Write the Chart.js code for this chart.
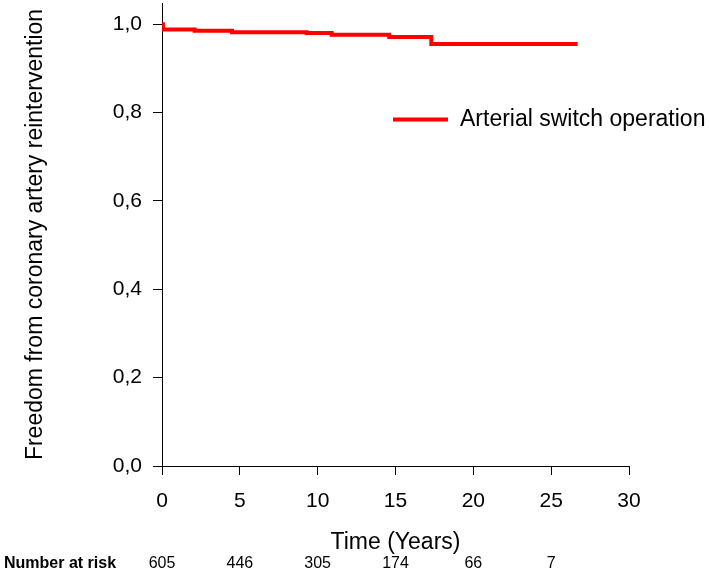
<!DOCTYPE html>
<html lang="en">
<head>
    <meta charset="UTF-8">
    <title>Freedom from coronary artery reintervention</title>
    <style>
        html, body {
            margin: 0;
            padding: 0;
            background-color: white;
        }
    </style>
    <script src="https://cdn.jsdelivr.net/npm/chart.js"></script>
</head>
<body>
    <canvas id="kmChart" width="709" height="580"></canvas>

    <script>
        // Kaplan-Meier step data
        const seriesLabel = 'Arterial switch operation';
        const times = [0, 0.06, 2.1, 4.5, 9.3, 10.9, 14.6, 17.3, 26.7];
        const survival = [1.0, 0.988, 0.985, 0.982, 0.980, 0.976, 0.971, 0.955, 0.955];

        const yTicks = [0, 0.2, 0.4, 0.6, 0.8, 1.0];
        const xTicks = [0, 5, 10, 15, 20, 25, 30];

        const riskTimes = [0, 5, 10, 15, 20, 25];
        const riskCounts = [605, 446, 305, 174, 66, 7];

        const FONT = '"Liberation Sans", Arial, sans-serif';
        const NARROW = '"Liberation Sans Narrow", "Liberation Sans", Arial, sans-serif';

        const points = times.map((t, i) => ({ x: t, y: survival[i] }));

        // legend inside the plot + number-at-risk row under the axis
        const extras = {
            id: 'kmExtras',
            afterDraw(chart) {
                const ctx = chart.ctx;
                const xs = chart.scales.x;
                ctx.save();

                // legend
                ctx.strokeStyle = '#ff0000';
                ctx.lineWidth = 4;
                ctx.beginPath();
                ctx.moveTo(393, 119.5);
                ctx.lineTo(448, 119.5);
                ctx.stroke();
                ctx.fillStyle = '#000';
                ctx.font = '23px ' + FONT;
                ctx.textBaseline = 'middle';
                ctx.textAlign = 'left';
                ctx.fillText(seriesLabel, 460, 120);

                // number at risk
                ctx.font = 'bold 16px ' + NARROW;
                ctx.fillText('Number at risk', 4, 564);
                ctx.font = '16px ' + NARROW;
                ctx.textAlign = 'center';
                riskTimes.forEach((t, i) => {
                    ctx.fillText(String(riskCounts[i]), xs.getPixelForValue(t), 564);
                });
                ctx.restore();
            }
        };

        new Chart(document.getElementById('kmChart'), {
            type: 'line',
            data: {
                datasets: [{
                    label: seriesLabel,
                    data: points,
                    borderColor: '#ff0000',
                    borderWidth: 4,
                    pointRadius: 0,
                    stepped: 'before',
                    fill: false
                }]
            },
            options: {
                responsive: false,
                animation: false,
                layout: { padding: { top: 3, right: 80, bottom: 24, left: 0 } },
                plugins: {
                    legend: { display: false },
                    tooltip: { enabled: false }
                },
                scales: {
                    x: {
                        type: 'linear',
                        min: 0,
                        max: 30,
                        afterBuildTicks: s => { s.ticks = xTicks.map(v => ({ value: v })); },
                        afterFit: s => {
                            s.height = 90;
                            s.paddingLeft = 0;
                            s.paddingRight = 0;
                        },
                        grid: {
                            display: true,
                            drawOnChartArea: false,
                            drawTicks: true,
                            tickLength: 9,
                            color: '#000'
                        },
                        border: { display: true, color: '#000', width: 1 },
                        ticks: {
                            color: '#000',
                            padding: 14,
                            maxRotation: 0,
                            font: { family: FONT, size: 21 }
                        },
                        title: {
                            display: true,
                            text: 'Time (Years)',
                            color: '#000',
                            padding: 0,
                            font: { family: FONT, size: 23 }
                        }
                    },
                    y: {
                        min: 0,
                        max: 1.048,
                        afterBuildTicks: s => { s.ticks = yTicks.map(v => ({ value: v })); },
                        afterFit: s => {
                            s.width = 162;
                            s.paddingTop = 0;
                            s.paddingBottom = 0;
                        },
                        grid: {
                            display: true,
                            drawOnChartArea: false,
                            drawTicks: true,
                            tickLength: 9,
                            color: '#000'
                        },
                        border: { display: true, color: '#000', width: 1 },
                        ticks: {
                            color: '#000',
                            padding: 11,
                            font: { family: FONT, size: 21 },
                            callback: v => v.toFixed(1).replace('.', ',')
                        },
                        title: {
                            display: true,
                            text: 'Freedom from coronary artery reintervention',
                            color: '#000',
                            padding: { top: 22, bottom: 0 },
                            font: { family: FONT, size: 23 }
                        }
                    }
                }
            },
            plugins: [extras]
        });
    </script>
</body>
</html>
